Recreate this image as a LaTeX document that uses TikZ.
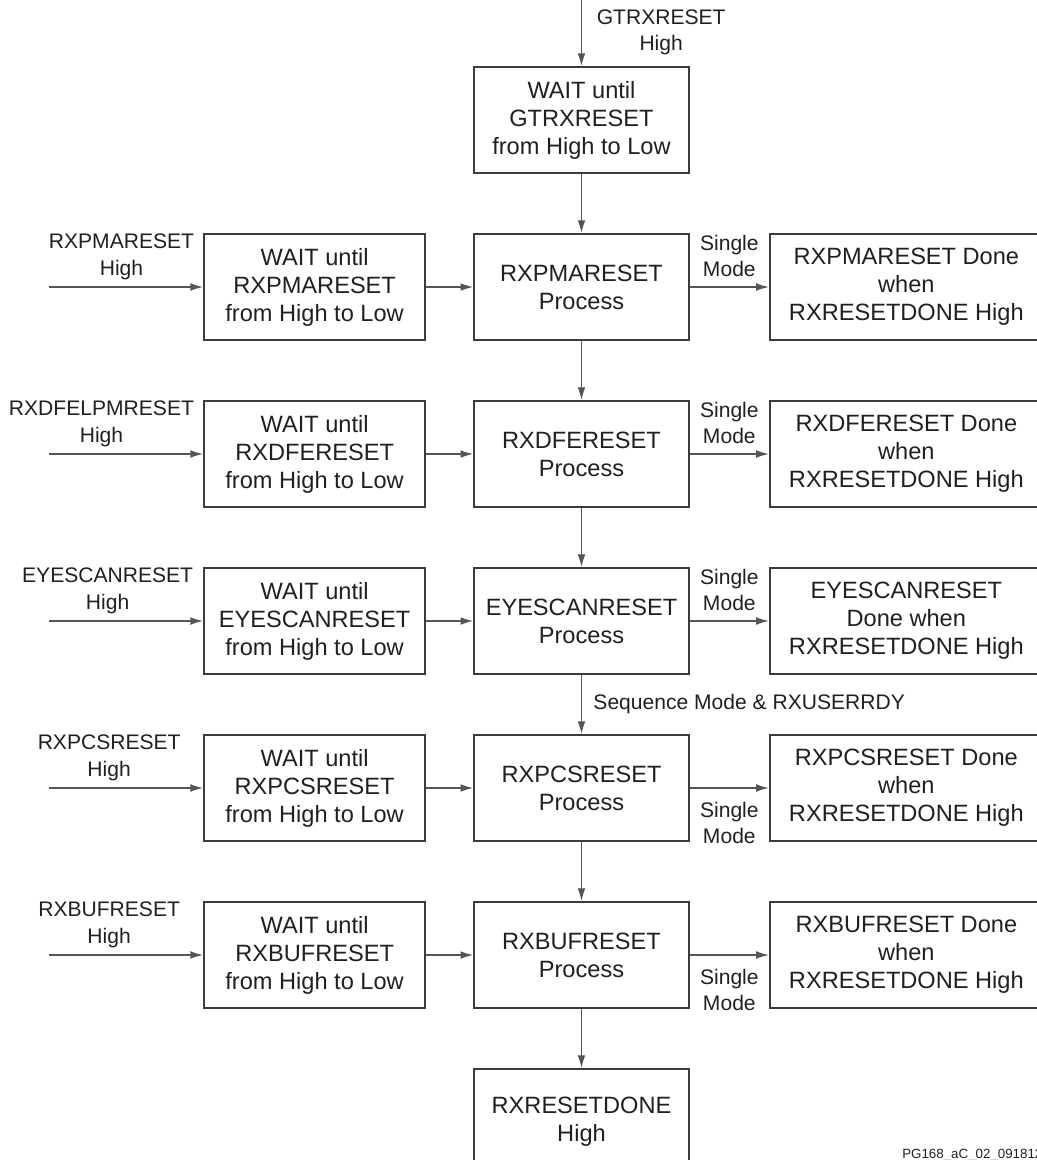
\documentclass[tikz,border=0pt]{standalone}
\usepackage{fontspec}
\setmainfont{Liberation Sans}
\usetikzlibrary{arrows.meta, positioning}
\definecolor{ink}{HTML}{231F20}
\definecolor{boxbd}{HTML}{3C3C3C}
\definecolor{wire}{HTML}{555555}
\tikzset{
  proc/.style={rectangle, draw=boxbd, line width=1.5pt, fill=white,
               align=center, inner sep=2pt, text=ink,
               minimum width=161pt, minimum height=79.5pt,
               font=\fontsize{17.7pt}{21pt}\selectfont},
  wait/.style={proc, minimum width=165.75pt},
  done/.style={proc, minimum width=204.75pt},
  sig/.style={align=center, inner sep=0pt, text=ink,
              font=\fontsize{15.8pt}{19.9pt}\selectfont},
  arrow/.style={-{Latex[length=9.5pt, width=5.8pt]}, line width=0.95pt, draw=wire},
}

\begin{document}
\begin{tikzpicture}[x=0.75pt, y=-0.75pt, node distance=44.25pt]
  \useasboundingbox (0,0) rectangle (1036,1160);

  % ---- middle column: the reset chain ----
  \node[proc] (gtw) at (581.5,120)
    {WAIT until\\GTRXRESET\\from High to Low};
  \node[proc, below=of gtw] (pma) {RXPMARESET\\Process};
  \node[proc, below=of pma] (dfe) {RXDFERESET\\Process};
  \node[proc, below=of dfe] (eye) {EYESCANRESET\\Process};
  \node[proc, below=of eye] (pcs) {RXPCSRESET\\Process};
  \node[proc, below=of pcs] (buf) {RXBUFRESET\\Process};
  \node[proc, below=of buf] (rdone) {RXRESETDONE\\High};

  % ---- left column: wait boxes ----
  \node[wait, left=35.3pt of pma] (pmaw) {WAIT until\\RXPMARESET\\from High to Low};
  \node[wait, left=35.3pt of dfe] (dfew) {WAIT until\\RXDFERESET\\from High to Low};
  \node[wait, left=35.3pt of eye] (eyew) {WAIT until\\EYESCANRESET\\from High to Low};
  \node[wait, left=35.3pt of pcs] (pcsw) {WAIT until\\RXPCSRESET\\from High to Low};
  \node[wait, left=35.3pt of buf] (bufw) {WAIT until\\RXBUFRESET\\from High to Low};

  % ---- right column: single mode results ----
  \node[done, right=59.25pt of pma] (pmad) {RXPMARESET Done\\when\\RXRESETDONE High};
  \node[done, right=59.25pt of dfe] (dfed) {RXDFERESET Done\\when\\RXRESETDONE High};
  \node[done, right=59.25pt of eye] (eyed) {EYESCANRESET\\Done when\\RXRESETDONE High};
  \node[done, right=59.25pt of pcs] (pcsd) {RXPCSRESET Done\\when\\RXRESETDONE High};
  \node[done, right=59.25pt of buf] (bufd) {RXBUFRESET Done\\when\\RXRESETDONE High};

  % free ends of the input arrows
  \coordinate[above=50.25pt of gtw.north] (gttop);
  \coordinate[left=115.5pt of pmaw.west] (pmain);
  \coordinate[left=115.5pt of dfew.west] (dfein);
  \coordinate[left=115.5pt of eyew.west] (eyein);
  \coordinate[left=115.5pt of pcsw.west] (pcsin);
  \coordinate[left=115.5pt of bufw.west] (bufin);

  \node[sig, anchor=base west] (figid) at (902,1158)
    {\fontsize{10pt}{12pt}\selectfont PG168\_aC\_02\_091812};

  % ---- connectors ----
  \draw[arrow] (gttop) -- node[sig, right=11pt] (gtl) {GTRXRESET\\High} (gtw);
  \draw[arrow] (gtw) -- (pma);
  \draw[arrow] (pma) -- (dfe);
  \draw[arrow] (dfe) -- (eye);
  \draw[arrow] (eye) -- node[sig, right=8.5pt] (seql) {Sequence Mode \& RXUSERRDY} (pcs);
  \draw[arrow] (pcs) -- (buf);
  \draw[arrow] (buf) -- (rdone);

  \draw[arrow] (pmain) -- node[sig, above=5pt, pos=0.47] (pmal) {RXPMARESET\\High} (pmaw);
  \draw[arrow] (dfein) -- node[sig, above=5pt, pos=0.34] (dfel) {RXDFELPMRESET\\High} (dfew);
  \draw[arrow] (eyein) -- node[sig, above=5pt, pos=0.38] (eyel) {EYESCANRESET\\High} (eyew);
  \draw[arrow] (pcsin) -- node[sig, above=5pt, pos=0.39] (pcsl) {RXPCSRESET\\High} (pcsw);
  \draw[arrow] (bufin) -- node[sig, above=5pt, pos=0.39] (bufl) {RXBUFRESET\\High} (bufw);

  \draw[arrow] (pmaw) -- (pma);
  \draw[arrow] (dfew) -- (dfe);
  \draw[arrow] (eyew) -- (eye);
  \draw[arrow] (pcsw) -- (pcs);
  \draw[arrow] (bufw) -- (buf);

  \draw[arrow] (pma) -- node[sig, above=7pt] (pmas) {Single\\Mode} (pmad);
  \draw[arrow] (dfe) -- node[sig, above=7pt] (dfes) {Single\\Mode} (dfed);
  \draw[arrow] (eye) -- node[sig, above=7pt] (eyes) {Single\\Mode} (eyed);
  \draw[arrow] (pcs) -- node[sig, below=10pt] (pcss) {Single\\Mode} (pcsd);
  \draw[arrow] (buf) -- node[sig, below=10pt] (bufs) {Single\\Mode} (bufd);
\end{tikzpicture}
\end{document}
